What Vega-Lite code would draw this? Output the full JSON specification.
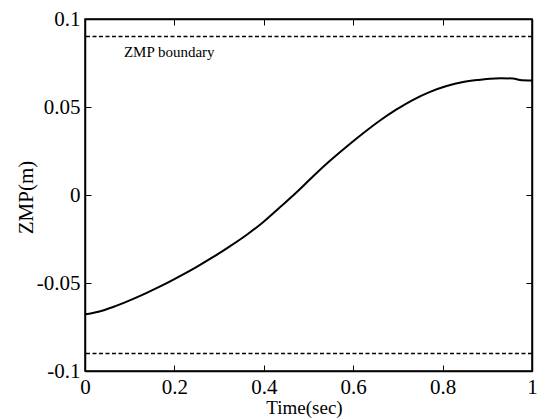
{
  "$schema": "https://vega.github.io/schema/vega-lite/v6.json",
  "width": 447,
  "height": 352,
  "autosize": "none",
  "padding": {"left": 85, "top": 19, "right": 10, "bottom": 48},
  "background": "white",
  "config": {
    "view": {"stroke": "black", "strokeWidth": 1.5},
    "font": "Liberation Serif",
    "axis": {
      "labelFont": "Liberation Serif",
      "titleFont": "Liberation Serif",
      "labelFontSize": 21,
      "titleFontSize": 21,
      "labelColor": "black",
      "titleColor": "black",
      "titleFontWeight": "normal",
      "domainColor": "black",
      "domainWidth": 1.5,
      "tickColor": "black",
      "tickWidth": 1,
      "tickSize": -6,
      "grid": false
    }
  },
  "datasets": {
    "curve": [
      {"t": 0, "v": -0.0678},
      {"t": 0.03, "v": -0.0663},
      {"t": 0.063, "v": -0.0636},
      {"t": 0.1, "v": -0.0599},
      {"t": 0.138, "v": -0.0556},
      {"t": 0.175, "v": -0.0511},
      {"t": 0.2125, "v": -0.0461},
      {"t": 0.25, "v": -0.0408},
      {"t": 0.287, "v": -0.0352},
      {"t": 0.324, "v": -0.0292},
      {"t": 0.362, "v": -0.0226},
      {"t": 0.399, "v": -0.0153},
      {"t": 0.436, "v": -0.0070},
      {"t": 0.474, "v": 0.0017},
      {"t": 0.511, "v": 0.0108},
      {"t": 0.548, "v": 0.0194},
      {"t": 0.585, "v": 0.0274},
      {"t": 0.623, "v": 0.0352},
      {"t": 0.66, "v": 0.0423},
      {"t": 0.697, "v": 0.0486},
      {"t": 0.734, "v": 0.0541},
      {"t": 0.772, "v": 0.0586},
      {"t": 0.809, "v": 0.0619},
      {"t": 0.846, "v": 0.0642},
      {"t": 0.884, "v": 0.0655},
      {"t": 0.906, "v": 0.0661},
      {"t": 0.93, "v": 0.0663},
      {"t": 0.958, "v": 0.0662},
      {"t": 0.973, "v": 0.0653},
      {"t": 1, "v": 0.065}
    ],
    "bounds": [{"b": 0.09}, {"b": -0.09}],
    "label": [{"t": 0.087, "v": 0.0784, "text": "ZMP boundary"}]
  },
  "layer": [
    {
      "data": {"name": "curve"},
      "mark": {"type": "line", "color": "black", "strokeWidth": 2, "interpolate": "monotone"},
      "encoding": {
        "x": {
          "field": "t", "type": "quantitative",
          "scale": {"domain": [0, 1], "nice": false, "zero": false},
          "axis": {
            "orient": "bottom",
            "values": [0, 0.2, 0.4, 0.6, 0.8, 1],
            "labelExpr": "'' + datum.value",
            "labelFont": "Liberation Serif",
            "labelPadding": 11,
            "title": "Time(sec)",
            "titleFont": "Liberation Serif",
            "titleFontSize": 19,
            "titleX": 219,
            "titleY": 36,
            "titleBaseline": "middle",
            "titleAlign": "center",
            "labelFlush": false
          }
        },
        "y": {
          "field": "v", "type": "quantitative",
          "scale": {"domain": [-0.1, 0.1], "nice": false, "zero": false},
          "axis": {
            "orient": "left",
            "values": [-0.1, -0.05, 0, 0.05, 0.1],
            "labelExpr": "'' + datum.value",
            "labelFont": "Liberation Serif",
            "labelPadding": 11,
            "title": "ZMP(m)",
            "titleFont": "Liberation Serif",
            "titleAngle": -90,
            "titleX": -59,
            "titleY": 178,
            "titleBaseline": "middle",
            "titleAlign": "center",
            "labelFlush": false
          }
        }
      }
    },
    {
      "data": {"name": "bounds"},
      "mark": {"type": "rule", "color": "black", "strokeWidth": 1.5, "strokeDash": [4, 2.5]},
      "encoding": {
        "y": {"field": "b", "type": "quantitative", "axis": null}
      }
    },
    {
      "data": {"name": "label"},
      "mark": {"type": "text", "font": "Liberation Serif", "fontSize": 15, "align": "left", "baseline": "alphabetic", "color": "black"},
      "encoding": {
        "x": {"field": "t", "type": "quantitative", "axis": null},
        "y": {"field": "v", "type": "quantitative", "axis": null},
        "text": {"field": "text"}
      }
    },
    {
      "data": {"name": "curve"},
      "mark": {"type": "line", "opacity": 0},
      "encoding": {
        "x": {
          "field": "t", "type": "quantitative",
          "axis": {"orient": "top", "values": [0, 0.2, 0.4, 0.6, 0.8, 1], "labels": false, "title": null}
        },
        "y": {
          "field": "v", "type": "quantitative",
          "axis": {"orient": "right", "values": [-0.1, -0.05, 0, 0.05, 0.1], "labels": false, "title": null}
        }
      }
    }
  ],
  "resolve": {"axis": {"x": "independent", "y": "independent"}}
}
